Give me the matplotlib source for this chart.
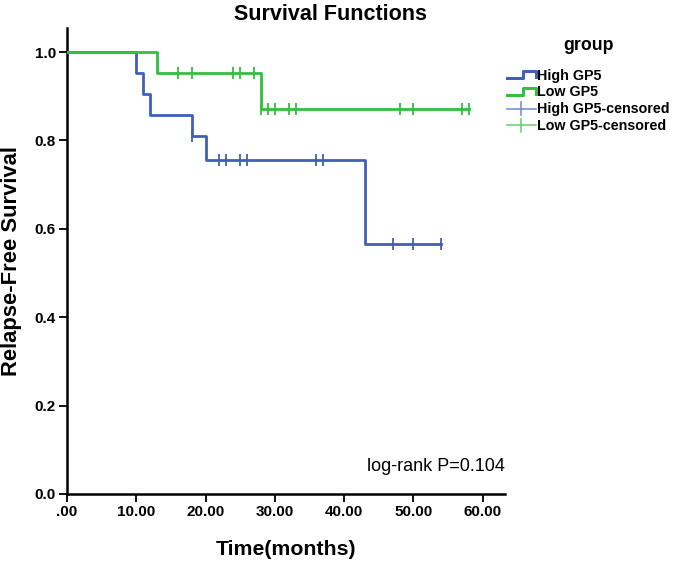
import matplotlib
matplotlib.use("Agg")
import matplotlib.pyplot as plt
from matplotlib.lines import Line2D
from matplotlib.legend_handler import HandlerBase

plt.rcParams['font.family'] = ['Liberation Sans', 'DejaVu Sans']

# ---- data ----
high_times = [0, 10, 11, 12, 18, 20, 43, 54]
high_surv = [1.0, 0.952, 0.905, 0.857, 0.810, 0.756, 0.566, 0.566]
high_cens_t = [18, 22, 23, 25, 26, 36, 37, 47, 50, 54]
high_cens_s = [0.810, 0.756, 0.756, 0.756, 0.756, 0.756, 0.756, 0.566, 0.566, 0.566]

low_times = [0, 13, 28, 58]
low_surv = [1.0, 0.952, 0.871, 0.871]
low_cens_t = [16, 18, 24, 25, 27, 28, 29, 30, 32, 33, 48, 50, 57, 58]
low_cens_s = [0.952, 0.952, 0.952, 0.952, 0.952, 0.871, 0.871, 0.871, 0.871, 0.871,
              0.871, 0.871, 0.871, 0.871]

xticks = [0, 10, 20, 30, 40, 50, 60]
xticklabels = ['.00', '10.00', '20.00', '30.00', '40.00', '50.00', '60.00']
yticks = [0.0, 0.2, 0.4, 0.6, 0.8, 1.0]
yticklabels = ['0.0', '0.2', '0.4', '0.6', '0.8', '1.0']
legend_labels = ['High GP5', 'Low GP5', 'High GP5-censored', 'Low GP5-censored']

BLUE = '#4060B8'
GREEN = '#33BF3F'

fig = plt.figure(figsize=(6.74, 5.63), dpi=100)
ax = fig.add_axes([0.0994, 0.1226, 0.6496, 0.8274])

ax.step(high_times, high_surv, where='post', color=BLUE, lw=2.0, zorder=3)
ax.step(low_times, low_surv, where='post', color=GREEN, lw=2.0, zorder=3)
ax.plot(high_cens_t, high_cens_s, ls='none', marker='|', ms=8, mew=1.3, color=BLUE, zorder=4)
ax.plot(low_cens_t, low_cens_s, ls='none', marker='|', ms=8, mew=1.3, color=GREEN, zorder=4)

ax.set_xlim(0, 63.2)
ax.set_ylim(0, 1.054)
ax.set_xticks(xticks)
ax.set_xticklabels(xticklabels, fontsize=11, fontweight='bold')
ax.set_yticks(yticks)
ax.set_yticklabels(yticklabels, fontsize=11, fontweight='bold')
ax.tick_params(direction='out', length=6, width=1.3, color='black', pad=2)
for s in ['top', 'right']:
    ax.spines[s].set_visible(False)
for s in ['left', 'bottom']:
    ax.spines[s].set_linewidth(1.8)

ax.set_xlabel('Time(months)', fontsize=15.3, fontweight='bold', labelpad=15)
ax.set_ylabel('Relapse-Free Survival', fontsize=15.8, fontweight='bold', labelpad=9)
fig.text(331 / 674, 1 - 14 / 563, 'Survival Functions', ha='center', va='center',
         fontsize=15.5, fontweight='bold')
ax.text(1.0, 0.06, 'log-rank P=0.104', transform=ax.transAxes, ha='right',
        va='center', fontsize=13)


class StepHandler(HandlerBase):
    def create_artists(self, legend, orig_handle, xdescent, ydescent, width, height,
                       fontsize, trans):
        w, h = width, height
        xs = [0, 0.55 * w, 0.55 * w, w, w]
        ys = [0.15 * h, 0.15 * h, 0.85 * h, 0.85 * h, 0.25 * h]
        ln = Line2D([x - xdescent for x in xs], [y - ydescent for y in ys],
                    color=orig_handle.get_color(), lw=2.2, transform=trans)
        return [ln]


class CensHandler(HandlerBase):
    def create_artists(self, legend, orig_handle, xdescent, ydescent, width, height,
                       fontsize, trans):
        w, h = width, height
        l1 = Line2D([-xdescent, w - xdescent], [0.45 * h - ydescent] * 2,
                    color=orig_handle.get_color(), lw=1.1, transform=trans)
        l2 = Line2D([0.5 * w - xdescent] * 2, [-0.2 * h - ydescent, 1.1 * h - ydescent],
                    color=orig_handle.get_color(), lw=1.1, transform=trans)
        return [l1, l2]


fig.text(589 / 674, 1 - 45 / 563, 'group', ha='center', va='center',
         fontsize=12.8, fontweight='bold')

h1 = Line2D([], [], color=BLUE)
h2 = Line2D([], [], color=GREEN)
h3 = Line2D([], [], color='#6A86D8')
h4 = Line2D([], [], color='#5FD06A')
leg = fig.legend([h1, h2, h3, h4], legend_labels,
                 handler_map={h1: StepHandler(), h2: StepHandler(),
                              h3: CensHandler(), h4: CensHandler()},
                 loc='upper left', bbox_to_anchor=(0.744, 1 - 63 / 563), frameon=False,
                 prop={'size': 10.3, 'weight': 'bold'}, borderaxespad=0,
                 handlelength=2.0, handletextpad=0.1, labelspacing=0.19)

fig.savefig('out.png', dpi=100)
